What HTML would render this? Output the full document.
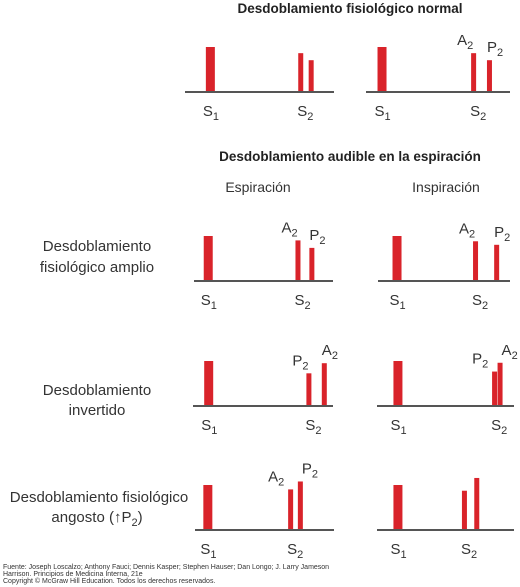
<!DOCTYPE html>
<html><head><meta charset="utf-8"><style>
html,body{margin:0;padding:0;background:#fff}
svg{display:block;font-family:"Liberation Sans","DejaVu Sans",sans-serif}
</style></head><body>
<svg id="chart" width="520" height="587" viewBox="0 0 520 587">
<text x="350" y="13" text-anchor="middle" font-weight="bold" font-size="13.5" fill="#222">Desdoblamiento fisiológico normal</text>
<text x="350" y="161" text-anchor="middle" font-weight="bold" font-size="13.5" fill="#222">Desdoblamiento audible en la espiración</text>
<text x="258" y="192" text-anchor="middle" font-size="14" fill="#333">Espiración</text>
<text x="446" y="192" text-anchor="middle" font-size="14" fill="#333">Inspiración</text>
<g font-size="15" fill="#333" text-anchor="middle">
<text x="97" y="251">Desdoblamiento<tspan x="97" y="272">fisiológico amplio</tspan></text>
<text x="97" y="395">Desdoblamiento<tspan x="97" y="415">invertido</tspan></text>
<text x="99" y="502">Desdoblamiento fisiológico<tspan x="97" y="522">angosto (↑P</tspan><tspan font-size="11" dy="4">2</tspan><tspan dy="-4">)</tspan></text>
</g>
<g font-size="7" fill="#333">
<text x="3" y="569">Fuente: Joseph Loscalzo; Anthony Fauci; Dennis Kasper; Stephen Hauser; Dan Longo; J. Larry Jameson</text>
<text x="3" y="576">Harrison. Principios de Medicina Interna, 21e</text>
<text x="3" y="583">Copyright © McGraw Hill Education. Todos los derechos reservados.</text>
</g>
<g id="panels"></g>
</svg>
<script>
// panel names
const panelNames = ["normal-exp","normal-insp","amplio-exp","amplio-insp","invertido-exp","invertido-insp","angosto-exp","angosto-insp"];
// sound timing within panel (0..1 of axis) for S1, first S2 component, second S2 component
const s1Time = [0.14, 0.08, 0.07, 0.11, 0.08, 0.12, 0.06, 0.12];
const c1Time = [0.76, 0.73, 0.73, 0.72, 0.81, 0.84, 0.67, 0.62];
const c2Time = [0.83, 0.84, 0.83, 0.88, 0.92, 0.88, 0.74, 0.71];
// sound amplitudes (0..1)
const s1Amp = [1.0, 1.0, 1.0, 1.0, 1.0, 1.0, 1.0, 1.0];
const c1Amp = [0.86, 0.86, 0.9, 0.88, 0.72, 0.76, 0.9, 0.87];
const c2Amp = [0.7, 0.7, 0.73, 0.8, 0.95, 0.96, 1.08, 1.16];
// labels for components
const c1Label = ["", "A", "A", "A", "P", "P", "A", ""];
const c2Label = ["", "P", "P", "P", "A", "A", "P", ""];

// layout
const panelX0 = [185, 366, 194, 378, 193, 377, 195, 377];
const panelX1 = [334, 510, 333, 510, 333, 514, 334, 514];
const panelY = [91, 91, 280, 280, 405, 405, 529, 529];
const barScale = 44;
const NS = "http://www.w3.org/2000/svg";
const g = document.getElementById("panels");
function el(t, a){const e=document.createElementNS(NS,t);for(const k in a)e.setAttribute(k,a[k]);return e;}
function xs(i,t){return panelX0[i]+t*(panelX1[i]-panelX0[i]);}
function ys(i,a){return panelY[i]-a*barScale;}
function sub(parent,x,y,letter,sb,name){
  const t=el("text",{x:x,y:y,"font-size":"15",fill:"#333"});
  
  
  t.textContent=letter;
  const s=el("tspan",{dy:"4","font-size":"11"});s.textContent=sb;t.appendChild(s);
  parent.appendChild(t);
}
for(let i=0;i<panelNames.length;i++){
  const p=el("g",{});
  
  
  const ln=el("line",{x1:panelX0[i],x2:panelX1[i],y1:panelY[i]+1,y2:panelY[i]+1,stroke:"#555","stroke-width":"2"});
  
  
  p.appendChild(ln);
  const bars=[[s1Time[i],s1Amp[i],9,'bar-s1'],[c1Time[i],c1Amp[i],5,'bar-s2-first'],[c2Time[i],c2Amp[i],5,'bar-s2-second']];
  for(const b of bars){
    const x=xs(i,b[0]),y=ys(i,b[1]);
    const r=el("rect",{x:x,y:y,width:b[2],height:panelY[i]-y,fill:"#d9232a"});
    
    
    p.appendChild(r);
  }
  const ly=panelY[i]+25;
  sub(p,xs(i,s1Time[i])-3,ly,"S","1","label-s1");
  sub(p,xs(i,c1Time[i])-1,ly,"S","2","label-s2");
  if(c1Label[i]){
    const x1=xs(i,c1Time[i]),x2=xs(i,c2Time[i]);
    const close=(x2-x1)<10;
    sub(p,x1-(close?20:14),ys(i,c1Amp[i])-8,c1Label[i],"2","label-component-1");
    sub(p,x2+(close?4:0),ys(i,c2Amp[i])-8,c2Label[i],"2","label-component-2");
  }
  g.appendChild(p);
}
</script>
</body></html>
